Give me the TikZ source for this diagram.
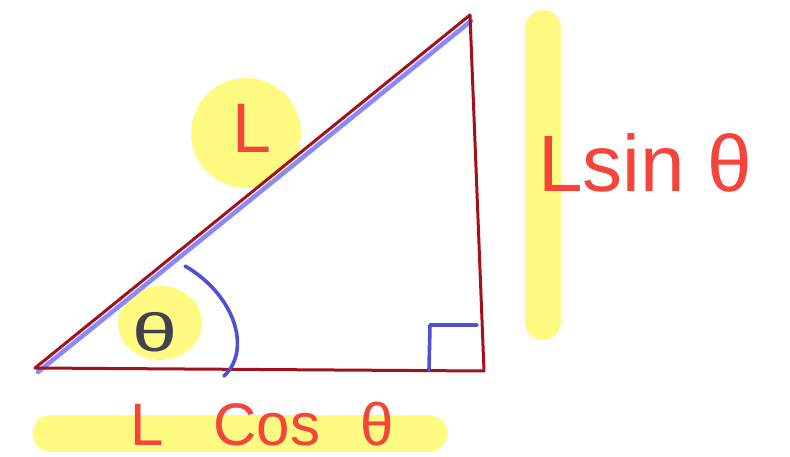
\documentclass[tikz,border=0pt]{standalone}
\usepackage{fontspec}
\setmainfont{Liberation Sans}
\usetikzlibrary{calc}
\definecolor{hlyellow}{HTML}{FFFA82}
\definecolor{sidered}{HTML}{A3121A}
\definecolor{penblue}{HTML}{4F50D2}
\definecolor{hypblue}{HTML}{8A88FF}
\definecolor{penred}{HTML}{F5453A}
\definecolor{pengrey}{HTML}{41414F}
\tikzset{
  hl/.style={hlyellow, line cap=round},
  blob/.style={fill=hlyellow, draw=none},
  side/.style={draw=sidered, line width=3pt, line cap=round},
  penmark/.style={draw=penblue, line width=3.6pt, line cap=round, line join=round},
  txt/.style={text=penred, inner sep=0pt},
}
\begin{document}
\begin{tikzpicture}[x=1pt, y=-1pt]
\useasboundingbox (0,0) rectangle (790,457);
% highlights
\draw[hl, line width=36pt] (543,28) -- (543,322);
\draw[hl, line width=37pt] (51,433) -- (429,433);
\fill[blob] (246,133) ellipse [x radius=55, y radius=55];
\fill[blob] (160,323) ellipse [x radius=42, y radius=37];
% triangle
\coordinate (A) at (35,368);
\coordinate (B) at (484,371);
\coordinate (C) at (470,15);
\draw[hypblue, line width=4.5pt, line cap=round] ($(A)+(3,4)$) -- ($(C)+(1,6)$);
\draw[side] (A) -- (C);
\draw[side] (C) -- (B);
\draw[side] (A) -- (B);
% angle and right angle
\draw[penmark] (185,266) .. controls (235,295) and (252,350) .. (224,376);
\draw[penmark] ($(B)+(-55,-1)$) -- ++(1,-45) -- ++(47,0);
% labels
\node[txt, font=\fontsize{70}{70}\selectfont] (hyp) at (252,128) {L};
\node[txt, anchor=base west, font=\fontsize{80}{80}\selectfont] (opp) at (538,192) {Lsin θ};
\node[txt, anchor=base west, font=\fontsize{60}{60}\selectfont] (adj) at (130,445) {L\hspace{50pt}Cos\hspace{40pt}θ};
\node[text=pengrey, inner sep=0pt, xscale=1.5, font=\fontsize{54}{54}\selectfont] (ang) at (155,332) {θ};
\end{tikzpicture}
\end{document}
